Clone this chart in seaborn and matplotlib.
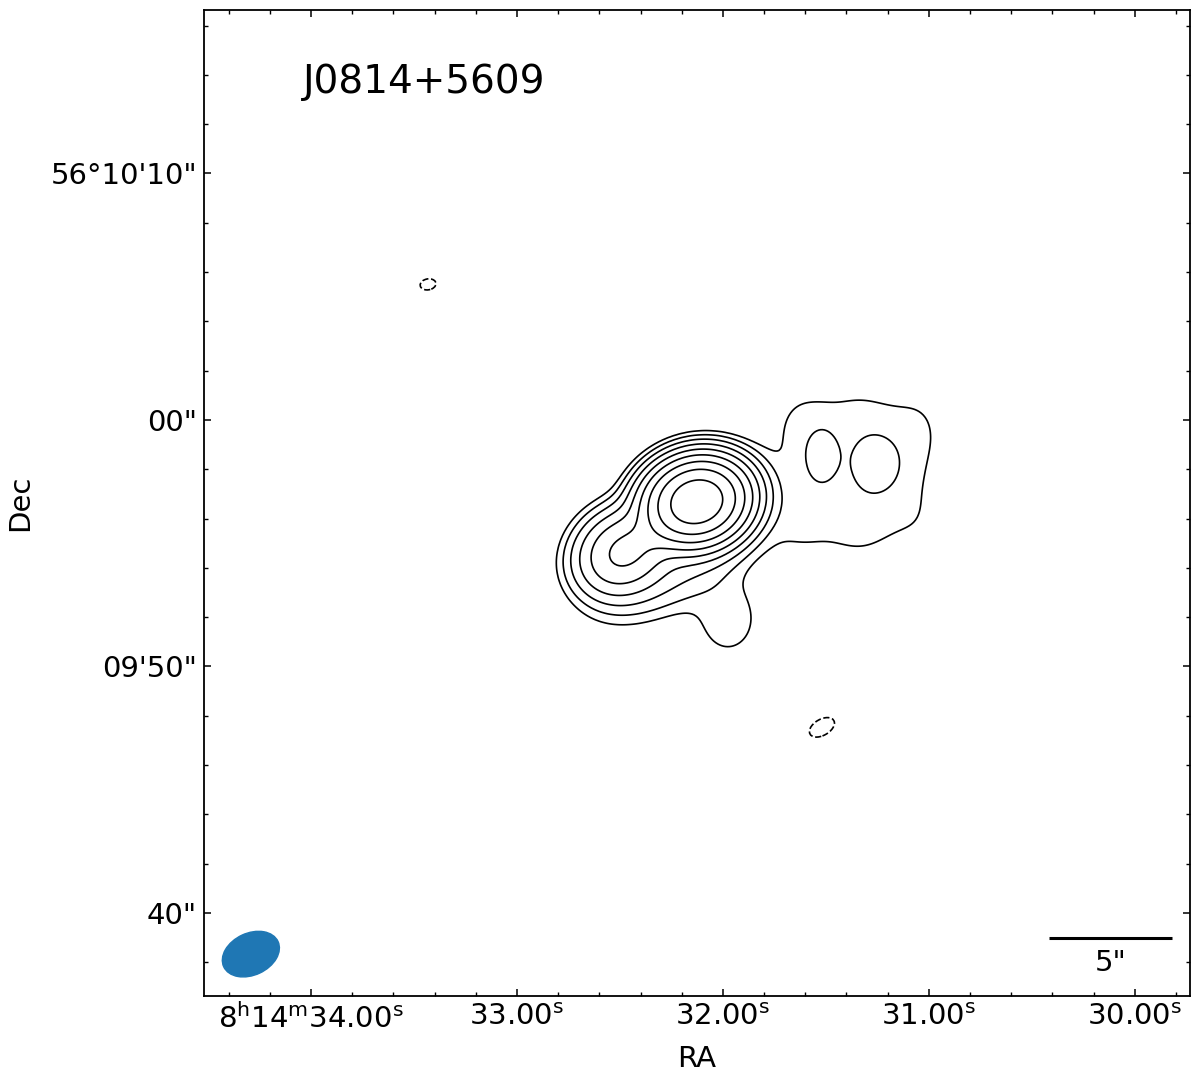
import numpy as np
import matplotlib
matplotlib.use('Agg')
import matplotlib.pyplot as plt
from matplotlib.patches import Ellipse
import matplotlib.ticker as mticker
import seaborn as sns

sns.set_style('ticks')
plt.rcParams.update({
    'font.family': ['DejaVu Sans'],
    'font.size': 21,
    'mathtext.fontset': 'dejavusans',
    'text.color': 'black',
    'axes.labelcolor': 'black',
    'xtick.color': 'black',
    'ytick.color': 'black',
    'xtick.direction': 'in',
    'ytick.direction': 'in',
    'xtick.top': True,
    'ytick.right': True,
    'xtick.major.size': 5,
    'ytick.major.size': 5,
    'xtick.minor.size': 2.6,
    'ytick.minor.size': 2.6,
    'xtick.major.width': 1.1,
    'ytick.major.width': 1.1,
    'xtick.minor.width': 1.0,
    'ytick.minor.width': 1.0,
    'axes.linewidth': 1.3,
    'axes.edgecolor': 'black',
})

# ── Source / map parameters ──
SOURCE = 'J0814+5609'
DEC_DEG = 56.1606                      # field declination (deg)
RA_REF = 32.0                          # reference RA seconds (8h14m32.00s)
ARCSEC_PER_S = 15 * np.cos(np.deg2rad(DEC_DEG))

# Gaussian components of the radio map (RA in s of 8h14m, Dec in arcsec above 56d09m00s)
# core, SW lobe, bridge, body, lump, NE plateau (6), NE knots (2), negative holes (2)
comp_ra   = [32.126, 32.490, 32.306, 32.209, 31.976,
             31.626, 31.335, 31.044, 31.626, 31.335, 31.044,
             31.519, 31.252, 33.432, 31.519]
comp_dec  = [56.69, 54.62, 55.56, 54.16, 51.91,
             59.66, 59.66, 59.66, 55.96, 55.96, 55.96,
             58.52, 58.19, 65.50, 47.53]
comp_amp  = [450.0, 34.0, 10.0, 4.5, 1.6,
             1.05, 1.05, 0.95, 0.95, 1.05, 0.78,
             2.15, 2.1, -1.3, -1.3]
comp_smaj = [0.99, 1.05, 1.22, 2.03, 1.14,
             1.14, 1.14, 1.14, 1.14, 1.14, 1.14,
             0.73, 0.81, 0.45, 0.77]
comp_smin = [0.81, 0.89, 0.61, 0.97, 0.95,
             1.62, 1.62, 1.62, 1.62, 1.62, 1.62,
             0.45, 0.69, 0.31, 0.45]
comp_pa   = [15, 35, 33, 30, 90,
             0, 0, 0, 0, 0, 0,
             90, 90, 10, 30]

# contour levels in units of the lowest (3 sigma) level
pos_levels = [1, 2, 4, 8, 16, 32, 64, 128, 256]
neg_levels = [-1]

# restoring beam (arcsec, deg)
beam_major, beam_minor, beam_pa = 2.43, 1.70, 25
scalebar_arcsec = 5

# axis ticks
ra_major = [34.0, 33.0, 32.0, 31.0, 30.0]
ra_labels = [r'$8^{\mathrm{h}}14^{\mathrm{m}}34.00^{\mathrm{s}}$', r'$33.00^{\mathrm{s}}$',
             r'$32.00^{\mathrm{s}}$', r'$31.00^{\mathrm{s}}$', r'$30.00^{\mathrm{s}}$']
dec_major = [40, 50, 60, 70]
dec_labels = ['40"', '09\'50"', '00"', '56°10\'10"']

xlim = (21.05, -18.95)   # arcsec east of reference
ylim = (36.63, 76.63)    # arcsec above 56d09m00s

# ── Build the map ──
east = np.linspace(xlim[1], xlim[0], 500)
north = np.linspace(ylim[0], ylim[1], 500)
E, N = np.meshgrid(east, north)
flux = np.zeros_like(E)
for ra, dec, amp, smaj, smin, pa in zip(comp_ra, comp_dec, comp_amp, comp_smaj, comp_smin, comp_pa):
    u = -(E - (ra - RA_REF) * ARCSEC_PER_S)
    v = N - dec
    t = np.deg2rad(pa)
    a = u * np.cos(t) + v * np.sin(t)
    b = -u * np.sin(t) + v * np.cos(t)
    flux += amp * np.exp(-0.5 * ((a / smaj) ** 2 + (b / smin) ** 2))

fig = plt.figure(figsize=(12, 10.79), dpi=100)
ax = fig.add_axes([0.17, 0.0769, 0.8217, 0.9138])

ax.contour(E, N, flux, levels=pos_levels, colors='black', linewidths=1.2, linestyles='solid')
ax.contour(E, N, flux, levels=neg_levels, colors='black', linewidths=1.2, linestyles='dashed')

ax.set_xlim(*xlim)
ax.set_ylim(*ylim)
ax.set_aspect('equal')

ax.xaxis.set_major_locator(mticker.FixedLocator([(r - RA_REF) * ARCSEC_PER_S for r in ra_major]))
ax.xaxis.set_major_formatter(mticker.FixedFormatter(ra_labels))
ra_minor = np.arange(29.8, 34.6, 0.2)
ax.xaxis.set_minor_locator(mticker.FixedLocator([(r - RA_REF) * ARCSEC_PER_S for r in ra_minor]))
ax.yaxis.set_major_locator(mticker.FixedLocator(dec_major))
ax.yaxis.set_major_formatter(mticker.FixedFormatter(dec_labels))
ax.yaxis.set_minor_locator(mticker.MultipleLocator(2))
ax.tick_params(which='both', direction='in', top=True, right=True, labelsize=21, pad=5)

ax.set_xlabel('RA', fontsize=21, labelpad=8)
ax.set_ylabel('Dec', fontsize=21, labelpad=12)

ax.text(0.10, 0.916, SOURCE, transform=ax.transAxes, fontsize=28, va='baseline', ha='left')

# beam
bx = xlim[0] - 1.9
by = ylim[0] + 1.7
ax.add_patch(Ellipse((bx, by), beam_major, beam_minor, angle=-beam_pa, color='#1f77b4'))

# scale bar
frac = scalebar_arcsec / abs(xlim[0] - xlim[1])
x1 = 0.9817
ax.plot([x1 - frac, x1], [0.0588, 0.0588], color='black', lw=2.2, transform=ax.transAxes,
        solid_capstyle='butt')
ax.text(x1 - frac / 2, 0.0335, f'{scalebar_arcsec}"', transform=ax.transAxes, fontsize=21,
        ha='center', va='center')

plt.savefig('out.png', dpi=100)
